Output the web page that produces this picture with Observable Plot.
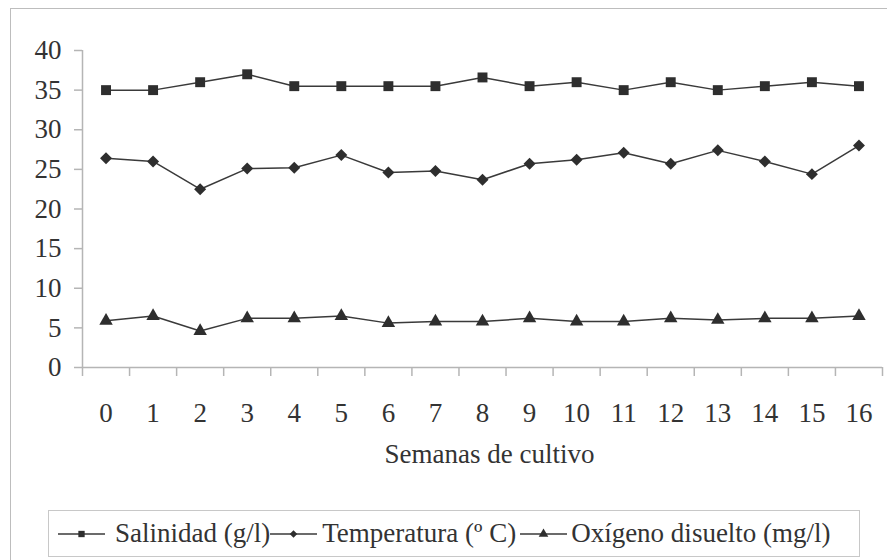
<!DOCTYPE html>
<html>
<head>
<meta charset="utf-8">
<script src="https://cdn.jsdelivr.net/npm/d3@7"></script>
<script src="https://cdn.jsdelivr.net/npm/@observablehq/plot@0.6"></script>
<style>
  html, body { margin: 0; padding: 0; background: #fff; }
  #wrap { position: relative; width: 887px; height: 560px; overflow: hidden; font-family: "Times New Roman", Times, "Liberation Serif", "DejaVu Serif", serif; color: #333; }
  #frame { position: absolute; left: 10px; top: 8px; width: 900px; height: 600px; border: 1.5px solid #bdbdbd; box-sizing: border-box; }
  #chart { position: absolute; left: 0; top: 0; }
  #legend { position: absolute; left: 48px; top: 510px; width: 812px; height: 47px; border: 1.5px solid #c8c8c8; box-sizing: border-box; display: flex; align-items: center; white-space: nowrap; font-size: 27px; color: #333; }
  #legend .item { display: flex; align-items: center; }
  #legend svg { display: block; }
</style>
</head>
<body>
<div id="wrap">
  <div id="frame"></div>
  <div id="chart"></div>
  <div id="legend"></div>
</div>
<script>
const weeks = [0, 1, 2, 3, 4, 5, 6, 7, 8, 9, 10, 11, 12, 13, 14, 15, 16];
const salinidad = [35, 35, 36, 37, 35.5, 35.5, 35.5, 35.5, 36.6, 35.5, 36, 35, 36, 35, 35.5, 36, 35.5];
const temperatura = [26.4, 26.0, 22.5, 25.1, 25.2, 26.8, 24.6, 24.8, 23.7, 25.7, 26.2, 27.1, 25.7, 27.4, 26.0, 24.4, 28.0];
const oxigeno = [5.9, 6.5, 4.6, 6.2, 6.2, 6.5, 5.6, 5.8, 5.8, 6.2, 5.8, 5.8, 6.2, 6.0, 6.2, 6.2, 6.5];
const seriesNames = ["Salinidad (g/l)", "Temperatura (º C)", "Oxígeno disuelto (mg/l)"];
const yTicks = [0, 5, 10, 15, 20, 25, 30, 35, 40];
const xTitle = "Semanas de cultivo";

const seriesValues = [salinidad, temperatura, oxigeno];
const symbols = ["square", "diamond2", "triangle"];
const radii = [5.6, 5.4, 5.0];
const data = seriesNames.flatMap((name, s) => weeks.map((w, i) => ({name, week: w, value: seriesValues[s][i]})));
const boundaries = d3.range(weeks.length + 1).map(i => weeks[0] - 0.5 + i);
const xDomain = [boundaries[0], boundaries[boundaries.length - 1]];

const axisColor = "#b5b5b5";
const ink = "#2e2e2e";
const serif = "'Times New Roman', Times, 'Liberation Serif', 'DejaVu Serif', serif";

const chart = Plot.plot({
  width: 887,
  height: 500,
  marginLeft: 82,
  marginRight: 5,
  marginTop: 50,
  marginBottom: 133,
  x: {domain: xDomain, axis: null},
  y: {domain: [yTicks[0], yTicks[yTicks.length - 1]], axis: null},
  style: {fontFamily: serif, fontSize: "27px", color: "#333", background: "transparent"},
  marks: [
    Plot.ruleY([yTicks[0]], {stroke: axisColor, strokeWidth: 1.5}),
    Plot.ruleX([xDomain[0]], {stroke: axisColor, strokeWidth: 1.5}),
    Plot.axisY({ticks: yTicks, tickSize: 8, tickPadding: 13, stroke: axisColor, strokeWidth: 1.5, strokeOpacity: 1, fill: "#333", label: null, fontFamily: serif}),
    Plot.axisX({ticks: boundaries, tickSize: 9, tickFormat: () => "", stroke: axisColor, strokeWidth: 1.5, strokeOpacity: 1, label: null}),
    Plot.axisX({ticks: weeks, tickSize: 0, tickPadding: 35, fill: "#333", label: null, tickFormat: d => String(d), fontFamily: serif}),
    Plot.text([xTitle], {frameAnchor: "bottom", dy: 95, dx: 7, fill: "#333", fontSize: 27, fontFamily: serif}),
    Plot.line(data, {x: "week", y: "value", z: "name", stroke: "#3a3a3a", strokeWidth: 1.5}),
    ...seriesNames.map((name, s) => Plot.dot(data.filter(d => d.name === name), {x: "week", y: "value", symbol: symbols[s], r: radii[s], fill: ink, stroke: "none"}))
  ]
});
chart.querySelectorAll("text").forEach(t => t.style.fontFamily = serif);
document.getElementById("chart").appendChild(chart);

// Legend
const d3Symbols = [d3.symbolSquare, d3.symbolDiamond2, d3.symbolTriangle];
const legend = document.getElementById("legend");
const legendGaps = [{before: 9, after: 10}, {before: 0, after: 5}, {before: 4, after: 4}];
const glyphSizes = [40, 36, 40];
seriesNames.forEach((name, s) => {
  const item = document.createElement("div");
  item.className = "item";
  const w = 47, h = 20;
  const size = glyphSizes[s];
  const path = d3.symbol().type(d3Symbols[s]).size(size)();
  item.innerHTML = `<svg width="${w}" height="${h}" style="margin-left:${legendGaps[s].before}px;margin-right:${legendGaps[s].after}px">
    <line x1="0" x2="${w}" y1="${h/2}" y2="${h/2}" stroke="#3a3a3a" stroke-width="1.5"/>
    <path d="${path}" transform="translate(${w/2},${h/2})" fill="${ink}"/>
  </svg><span>${name}</span>`;
  legend.appendChild(item);
});
</script>
</body>
</html>
